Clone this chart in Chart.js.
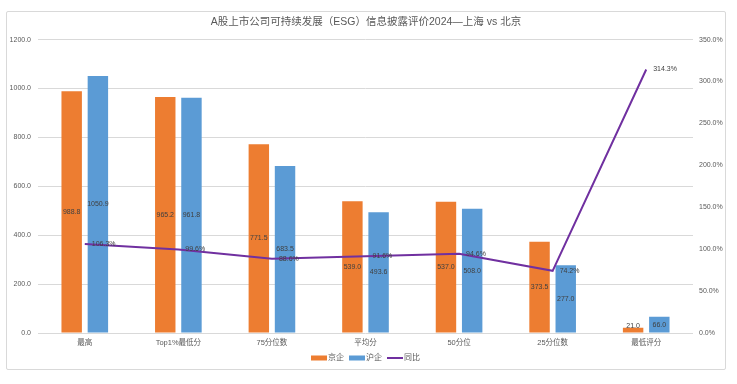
<!DOCTYPE html>
<html>
<head>
<meta charset="utf-8">
<script src="https://cdn.jsdelivr.net/npm/chart.js@4"></script>
<style>
  html, body { margin: 0; padding: 0; background: #fff; }
  #box {
    position: absolute; left: 6px; top: 11px;
    width: 720px; height: 359px;
    border: 1px solid #D9D9D9; border-radius: 2px;
    box-sizing: border-box;
  }
  canvas { display: block; }
</style>
</head>
<body>
<div id="box"><canvas id="esgChart" width="718" height="357"></canvas></div>
<script>
// ── Data ───────────────────────────────────────────
const categories = ['最高', 'Top1%最低分', '75分位数', '平均分', '50分位', '25分位数', '最低评分'];
const beijing    = [988.8, 965.2, 771.5, 539.0, 537.0, 373.5, 21.0];
const shanghai   = [1050.9, 961.8, 683.5, 493.6, 508.0, 277.0, 66.0];
const yoyPct     = [106.3, 99.6, 88.6, 91.6, 94.6, 74.2, 314.3];

const FONT  = '"Liberation Sans", "Noto Sans CJK SC", sans-serif';
const TEXT  = '#595959';
const LABEL = '#404040';
const GRID  = '#D9D9D9';
const ORANGE = '#ED7D31', BLUE = '#5B9BD5', PURPLE = '#7030A0';

// ── Value labels (bars centred, line to the right) ──
const valueLabels = {
  id: 'valueLabels',
  afterDatasetsDraw(chart) {
    const { ctx, chartArea } = chart;
    ctx.save();
    ctx.font = '7px ' + FONT;
    ctx.fillStyle = LABEL;
    ctx.textBaseline = 'middle';
    chart.data.datasets.forEach((ds, di) => {
      const meta = chart.getDatasetMeta(di);
      meta.data.forEach((el, i) => {
        if (ds.type === 'line') {
          ctx.textAlign = 'left';
          ctx.fillText(ds.data[i].toFixed(1) + '%', el.x + 7, el.y);
        } else {
          ctx.textAlign = 'center';
          const y = Math.min((el.y + el.base) / 2, chartArea.bottom - 7);
          ctx.fillText(ds.data[i].toFixed(1), el.x, y);
        }
      });
    });
    ctx.restore();
  }
};

// ── Bottom legend ──────────────────────────────────
const bottomLegend = {
  id: 'bottomLegend',
  afterDraw(chart) {
    const { ctx } = chart;
    const items = [
      { text: '京企', color: ORANGE, kind: 'box' },
      { text: '沪企', color: BLUE,   kind: 'box' },
      { text: '同比', color: PURPLE, kind: 'line' }
    ];
    ctx.save();
    ctx.font = '8px ' + FONT;
    ctx.textBaseline = 'middle';
    ctx.textAlign = 'left';
    const sw = 16, gap = 1, itemGap = 5;
    const widths = items.map(it => sw + gap + ctx.measureText(it.text).width);
    const total = widths.reduce((a, b) => a + b, 0) + itemGap * (items.length - 1);
    let x = (chart.chartArea.left + chart.chartArea.right) / 2 - total / 2;
    const y = 346;
    items.forEach((it, i) => {
      ctx.fillStyle = it.color;
      if (it.kind === 'box') ctx.fillRect(x, y - 2.5, sw, 5);
      else ctx.fillRect(x, y - 1, sw, 2);
      ctx.fillStyle = TEXT;
      ctx.fillText(it.text, x + sw + gap, y);
      x += widths[i] + itemGap;
    });
    ctx.restore();
  }
};

new Chart(document.getElementById('esgChart'), {
  type: 'bar',
  data: {
    labels: categories,
    datasets: [
      {
        type: 'line',
        label: '同比',
        data: yoyPct,
        yAxisID: 'y1',
        borderColor: PURPLE,
        borderWidth: 2,
        pointRadius: 0,
        tension: 0,
        order: 0
      },
      {
        label: '京企',
        data: beijing,
        backgroundColor: ORANGE,
        yAxisID: 'y',
        categoryPercentage: 0.56,
        barPercentage: 0.78,
        order: 1
      },
      {
        label: '沪企',
        data: shanghai,
        backgroundColor: BLUE,
        yAxisID: 'y',
        categoryPercentage: 0.56,
        barPercentage: 0.78,
        order: 1
      }
    ]
  },
  options: {
    responsive: false,
    animation: false,
    layout: { padding: { left: 0, right: 0, top: 0, bottom: 20 } },
    plugins: {
      legend: { display: false },
      tooltip: { enabled: false },
      title: {
        display: true,
        text: 'A股上市公司可持续发展（ESG）信息披露评价2024—上海 vs 北京',
        color: TEXT,
        font: { size: 10.5, family: FONT, weight: 'normal' },
        padding: { top: 4, bottom: 11 }
      }
    },
    scales: {
      x: {
        grid: { display: false, drawTicks: false },
        border: { display: false },
        ticks: { color: TEXT, font: { size: 7.5, family: FONT }, padding: 5 },
        afterFit: s => { s.height = 16; }
      },
      y: {
        position: 'left',
        min: 0, max: 1200,
        ticks: { stepSize: 200, color: TEXT, font: { size: 7, family: FONT }, padding: 7,
                 callback: v => v.toFixed(1) },
        grid: { color: GRID, drawTicks: false },
        border: { display: false },
        afterFit: s => { s.width = 31; }
      },
      y1: {
        position: 'right',
        min: 0, max: 350,
        ticks: { stepSize: 50, color: TEXT, font: { size: 7, family: FONT }, padding: 6,
                 callback: v => v.toFixed(1) + '%' },
        grid: { display: false, drawTicks: false },
        border: { display: false },
        afterFit: s => { s.width = 32; }
      }
    }
  },
  plugins: [valueLabels, bottomLegend]
});
</script>
</body>
</html>
